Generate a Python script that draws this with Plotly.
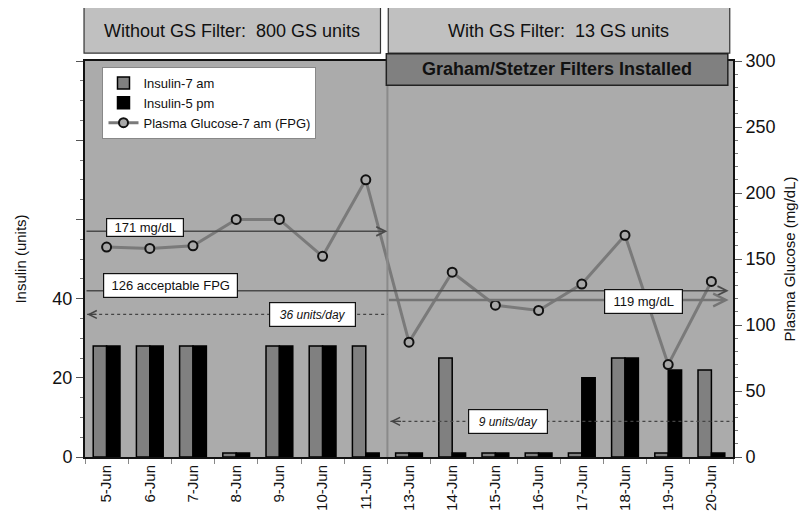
import plotly.graph_objects as go

# ---------------- data ----------------
dates = ["5-Jun", "6-Jun", "7-Jun", "8-Jun", "9-Jun", "10-Jun", "11-Jun",
         "13-Jun", "14-Jun", "15-Jun", "16-Jun", "17-Jun", "18-Jun", "19-Jun", "20-Jun"]
insulin_7am = [28, 28, 28, 1, 28, 28, 28, 1, 25, 1, 1, 1, 25, 1, 22]
insulin_5pm = [28, 28, 28, 1, 28, 28, 1, 1, 1, 1, 1, 20, 25, 22, 1]
glucose_7am = [159, 158, 160, 180, 180, 152, 210, 87, 140, 115, 111, 131, 168, 70, 133]

fpg_avg_before = 171
fpg_acceptable = 126
fpg_avg_after = 119
insulin_day_before = 36
insulin_day_after = 9

header_left = "Without GS Filter:  800 GS units"
header_right = "With GS Filter:  13 GS units"
filters_label = "Graham/Stetzer Filters Installed"

FONT = "Liberation Sans, Arial, sans-serif"
PLOT_BG = "#ababab"

fig = go.Figure()
fig.add_trace(go.Bar(x=dates, y=insulin_7am, name="Insulin-7 am",
                     marker=dict(color="#808080", line=dict(color="#000", width=1.5)),
                     yaxis="y"))
fig.add_trace(go.Bar(x=dates, y=insulin_5pm, name="Insulin-5 pm",
                     marker=dict(color="#000000", line=dict(color="#000", width=1.5)),
                     yaxis="y"))
fig.add_trace(go.Scatter(x=dates, y=glucose_7am, name="Plasma Glucose-7 am (FPG)",
                         mode="lines+markers", yaxis="y2",
                         line=dict(color="#7a7a7a", width=3),
                         marker=dict(symbol="circle", size=9, color="#a8a8a8",
                                     line=dict(color="#111", width=2))))

split = 6.5  # boundary between 11-Jun and 13-Jun
n = len(dates)

shapes = []
annotations = []

# divider
shapes.append(dict(type="line", xref="x", yref="paper", x0=split, x1=split, y0=0, y1=1,
                   line=dict(color="#8a8a8a", width=2)))

# header boxes
shapes.append(dict(type="rect", xref="paper", yref="paper", x0=-0.0015, x1=0.456,
                   y0=1.020, y1=1.139, fillcolor="#c0c0c0", line=dict(color="#333", width=1.2),
                   layer="above"))
shapes.append(dict(type="rect", xref="paper", yref="paper", x0=0.468, x1=0.995,
                   y0=1.020, y1=1.139, fillcolor="#c0c0c0", line=dict(color="#333", width=1.2),
                   layer="above"))
shapes.append(dict(type="rect", xref="paper", yref="paper", x0=0.465, x1=0.992,
                   y0=0.939, y1=1.018, fillcolor="#808080", line=dict(color="#222", width=1.5),
                   layer="above"))
annotations.append(dict(xref="paper", yref="paper", x=0.227, y=1.077, xanchor="center", yanchor="middle",
                        text=header_left, showarrow=False,
                        font=dict(family=FONT, size=18, color="#111")))
annotations.append(dict(xref="paper", yref="paper", x=0.731, y=1.077, xanchor="center", yanchor="middle",
                        text=header_right, showarrow=False,
                        font=dict(family=FONT, size=18, color="#111")))
annotations.append(dict(xref="paper", yref="paper", x=0.728, y=0.979, xanchor="center", yanchor="middle",
                        text="<b>" + filters_label + "</b>", showarrow=False,
                        font=dict(family=FONT, size=18, color="#111")))

# 126 acceptable FPG line (full width, arrow right)
annotations.append(dict(xref="x", yref="y2", axref="x", ayref="y2",
                        x=n - 0.6, y=fpg_acceptable, ax=-0.5, ay=fpg_acceptable,
                        text="", showarrow=True, arrowhead=5, arrowsize=1.2, arrowwidth=1.5,
                        arrowcolor="#4a4a4a", standoff=0, startstandoff=0))
# 171 line (before, arrow to divider)
annotations.append(dict(xref="x", yref="y2", axref="x", ayref="y2",
                        x=split, y=fpg_avg_before, ax=-0.5, ay=fpg_avg_before,
                        text="", showarrow=True, arrowhead=5, arrowsize=1.2, arrowwidth=1.5,
                        arrowcolor="#4a4a4a", standoff=0, startstandoff=0))
# 119 line (after)
annotations.append(dict(xref="x", yref="y2", axref="x", ayref="y2",
                        x=n - 0.6, y=fpg_avg_after, ax=split, ay=fpg_avg_after,
                        text="", showarrow=True, arrowhead=5, arrowsize=1.0, arrowwidth=2.5,
                        arrowcolor="#747474", standoff=0, startstandoff=0))

# dotted insulin/day lines
shapes.append(dict(type="line", xref="x", yref="y", x0=-0.45, x1=split, y0=insulin_day_before,
                   y1=insulin_day_before, line=dict(color="#444", width=1.3, dash="dot")))
annotations.append(dict(xref="x", yref="y", axref="x", ayref="y",
                        x=-0.45, y=insulin_day_before, ax=-0.2, ay=insulin_day_before,
                        text="", showarrow=True, arrowhead=5, arrowsize=1.2, arrowwidth=1.3,
                        arrowcolor="#444", standoff=0, startstandoff=0))
shapes.append(dict(type="line", xref="x", yref="y", x0=split + 0.07, x1=n - 0.5, y0=insulin_day_after,
                   y1=insulin_day_after, line=dict(color="#444", width=1.3, dash="dot")))
annotations.append(dict(xref="x", yref="y", axref="x", ayref="y",
                        x=split + 0.07, y=insulin_day_after, ax=split + 0.35, ay=insulin_day_after,
                        text="", showarrow=True, arrowhead=5, arrowsize=1.2, arrowwidth=1.3,
                        arrowcolor="#444", standoff=0, startstandoff=0))

# label boxes
def box(x, y, yref, text, w, h, italic=False, size=13):
    t = "<i>" + text + "</i>" if italic else text
    return dict(xref="x", yref=yref, x=x, y=y, text=t, showarrow=False,
                xanchor="center", yanchor="middle",
                bgcolor="#ffffff", bordercolor="#111", borderwidth=1.2, borderpad=0,
                width=w, height=h, font=dict(family=FONT, size=size, color="#111"))

annotations.append(box(0.89, 174, "y2", f"{fpg_avg_before} mg/dL", 76, 17))
annotations.append(box(1.49, 130, "y2", f"{fpg_acceptable} acceptable FPG", 133, 23))
annotations.append(box(4.76, insulin_day_before, "y", f"{insulin_day_before} units/day", 85, 23, True, 12))
annotations.append(box(9.29, insulin_day_after, "y", f"{insulin_day_after} units/day", 78, 23, True, 12))
annotations.append(box(12.42, 118, "y2", f"{fpg_avg_after} mg/dL", 77, 23))

fig.update_layout(
    width=800, height=521,
    margin=dict(l=72, r=72, t=53, b=72),
    paper_bgcolor="#ffffff", plot_bgcolor=PLOT_BG,
    barmode="group", bargap=0.38, bargroupgap=0,
    font=dict(family=FONT, color="#111"),
    showlegend=True,
    legend=dict(x=0.027, y=0.985, xanchor="left", yanchor="top",
                bgcolor="#ffffff", bordercolor="#888", borderwidth=1,
                font=dict(family=FONT, size=13, color="#111"),
                tracegroupgap=0, itemwidth=30),
    xaxis=dict(type="category", tickangle=-90, showgrid=False, showline=True,
               linecolor="#111", linewidth=2, mirror=True,
               ticks="outside", tickson="boundaries", ticklen=5, tickcolor="#888",
               tickfont=dict(family=FONT, size=15, color="#111"),
               range=[-0.5, n - 0.5]),
    yaxis=dict(range=[0, 100], tickvals=[0, 20, 40, 60, 80, 100],
               ticktext=["0", "20", "40", "", "", ""],
               showgrid=False, zeroline=False, showline=True, linecolor="#111", linewidth=2,
               ticks="outside", ticklen=7, tickcolor="#555",
               minor=dict(tickmode="linear", tick0=0, dtick=5, ticks="outside", ticklen=3,
                          tickcolor="#777", showgrid=False),
               tickfont=dict(family=FONT, size=18, color="#111"),
               title=dict(text="Insulin (units)", font=dict(family=FONT, size=15, color="#111"),
                          standoff=22)),
    yaxis2=dict(range=[0, 300], overlaying="y", side="right", dtick=50,
                showgrid=False, zeroline=False, showline=True, linecolor="#111", linewidth=2,
                ticks="outside", ticklen=7, tickcolor="#555",
                minor=dict(tickmode="linear", tick0=0, dtick=10, ticks="outside", ticklen=3,
                           tickcolor="#777", showgrid=False),
                tickfont=dict(family=FONT, size=18, color="#111"),
                title=dict(text="Plasma Glucose (mg/dL)", font=dict(family=FONT, size=15, color="#111"),
                           standoff=10)),
    shapes=shapes,
    annotations=annotations,
)

fig.write_html("out.html")
